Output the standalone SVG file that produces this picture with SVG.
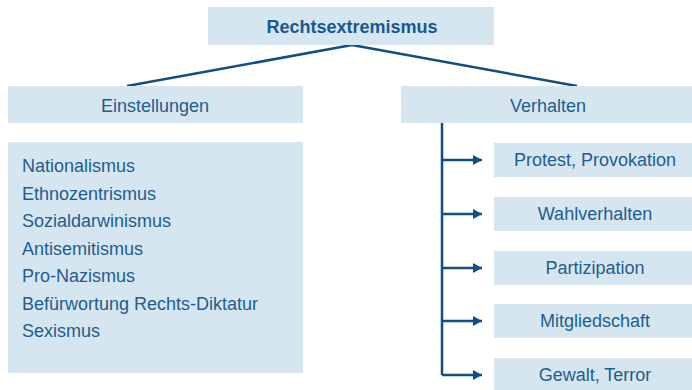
<svg xmlns="http://www.w3.org/2000/svg" width="692" height="390" viewBox="0 0 692 390">
<style>
.box{fill:#d6e6f0}
.t{font-family:"Liberation Sans",Arial,sans-serif;font-size:18px;fill:#1f5d8e}
.c{text-anchor:middle}
.b{font-weight:bold;fill:#1a5790}
.ln{stroke:#0f4f83;stroke-width:2.5;fill:none}
</style>
<defs>
<marker id="ah" markerWidth="10" markerHeight="10" refX="9" refY="5" orient="auto" markerUnits="userSpaceOnUse">
<path d="M0,0 L9,5 L0,10 Z" fill="#0f4f83"/>
</marker>
</defs>
<rect width="692" height="390" fill="#ffffff"/>
<g id="connectors">
<path class="ln" d="M352,45 L127,86"/>
<path class="ln" d="M352,45 L577,86"/>
<path class="ln" d="M442,123 L442,375"/>
<path class="ln" d="M442,160 L482,160" marker-end="url(#ah)"/>
<path class="ln" d="M442,214 L482,214" marker-end="url(#ah)"/>
<path class="ln" d="M442,268 L482,268" marker-end="url(#ah)"/>
<path class="ln" d="M442,321 L482,321" marker-end="url(#ah)"/>
<path class="ln" d="M442,375 L482,375" marker-end="url(#ah)"/>
</g>
<g id="root">
<rect class="box" x="208" y="7" width="286" height="38"/>
<text class="t c b" x="352" y="33">Rechtsextremismus</text>
</g>
<g id="einstellungen">
<rect class="box" x="8" y="86" width="295" height="37"/>
<text class="t c" x="155" y="112">Einstellungen</text>
</g>
<g id="verhalten">
<rect class="box" x="401" y="86" width="291" height="37"/>
<text class="t c" x="548" y="112">Verhalten</text>
</g>
<g id="einstellungen-liste">
<rect class="box" x="8" y="142" width="295" height="231"/>
<text class="t" x="22" y="172">Nationalismus</text>
<text class="t" x="22" y="199.5">Ethnozentrismus</text>
<text class="t" x="22" y="227">Sozialdarwinismus</text>
<text class="t" x="22" y="254.5">Antisemitismus</text>
<text class="t" x="22" y="282">Pro-Nazismus</text>
<text class="t" x="22" y="309.5">Befürwortung Rechts-Diktatur</text>
<text class="t" x="22" y="337">Sexismus</text>
</g>
<g id="protest">
<rect class="box" x="494" y="143" width="198" height="34"/>
<text class="t c" x="595" y="166">Protest, Provokation</text>
</g>
<g id="wahlverhalten">
<rect class="box" x="494" y="197" width="198" height="34"/>
<text class="t c" x="595" y="220">Wahlverhalten</text>
</g>
<g id="partizipation">
<rect class="box" x="494" y="251" width="198" height="34"/>
<text class="t c" x="595" y="274">Partizipation</text>
</g>
<g id="mitgliedschaft">
<rect class="box" x="494" y="304" width="198" height="34"/>
<text class="t c" x="595" y="327">Mitgliedschaft</text>
</g>
<g id="gewalt">
<rect class="box" x="494" y="358" width="198" height="34"/>
<text class="t c" x="595" y="381">Gewalt, Terror</text>
</g>
</svg>
